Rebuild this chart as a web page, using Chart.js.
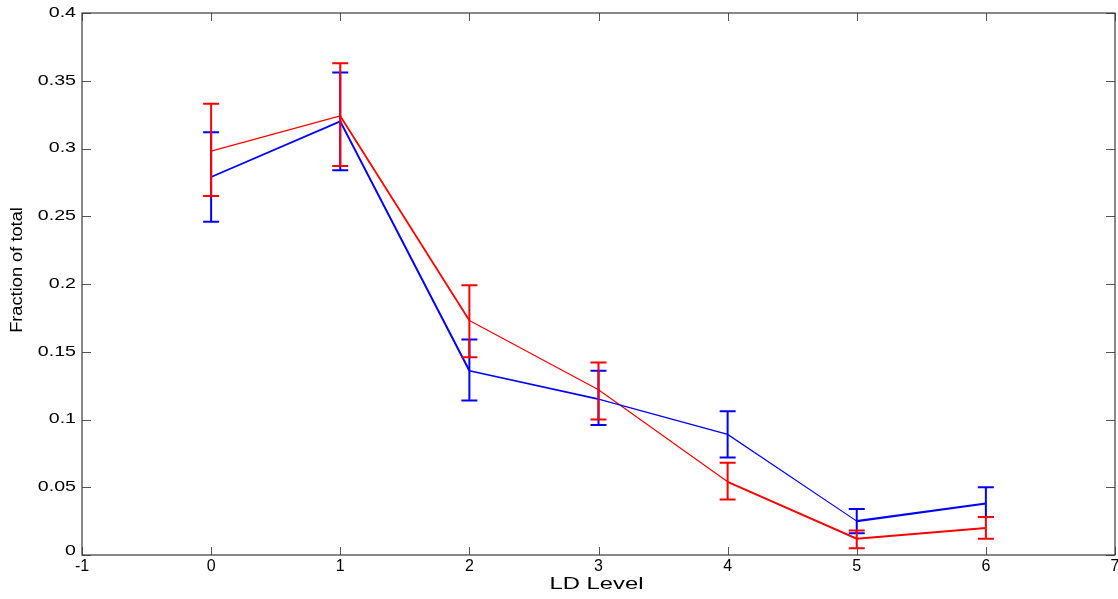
<!DOCTYPE html>
<html>
<head>
<meta charset="utf-8">
<script src="https://cdn.jsdelivr.net/npm/chart.js@4"></script>
<style>
  html, body { margin: 0; padding: 0; background: #fff; }
  #wrap { width: 1118px; height: 599px; }
</style>
</head>
<body>
<div id="wrap"><canvas id="ldChart" width="1118" height="599"></canvas></div>
<script>
// LD levels on the x axis
const levels = [0, 1, 2, 3, 4, 5, 6];

// red series: mean and error bar ends
const redMean = [0.298, 0.324, 0.173, 0.122, 0.054, 0.012, 0.020];
const redLow  = [0.265, 0.287, 0.146, 0.100, 0.041, 0.005, 0.012];
const redHigh = [0.333, 0.363, 0.199, 0.142, 0.068, 0.018, 0.028];

// blue series: mean and error bar ends
const blueMean = [0.279, 0.320, 0.136, 0.115, 0.089, 0.025, 0.038];
const blueLow  = [0.246, 0.284, 0.114, 0.096, 0.072, 0.016, 0.028];
const blueHigh = [0.312, 0.356, 0.159, 0.136, 0.106, 0.034, 0.050];

// tick labels
const xTicks = [-1, 0, 1, 2, 3, 4, 5, 6, 7];
const yTicks = ["0", "0.05", "0.1", "0.15", "0.2", "0.25", "0.3", "0.35", "0.4"];

// segment widths (the original has uneven line weights)
const redSegWidth = [1.3, 1.8, 1.2, 1.2, 2, 2];
const blueSegWidth = [1.7, 2, 1.7, 1.2, 1.2, 2.2];

function toPoints(values) {
    return levels.map((lv, i) => ({ x: lv, y: values[i] }));
}

// error bars drawn through the chart's own scales
const errorBars = {
    id: "errorBars",
    afterDatasetsDraw(chart) {
        const ctx = chart.ctx;
        const xs = chart.scales.x;
        const ys = chart.scales.y;
        const sets = [
            { color: "#0000ff", low: blueLow, high: blueHigh },
            { color: "#ff0000", low: redLow, high: redHigh }
        ];
        ctx.save();
        sets.forEach(s => {
            ctx.strokeStyle = s.color;
            ctx.lineWidth = 2;
            levels.forEach((lv, i) => {
                const px = xs.getPixelForValue(lv);
                const lo = ys.getPixelForValue(s.low[i]);
                const hi = ys.getPixelForValue(s.high[i]);
                ctx.beginPath();
                ctx.moveTo(px, lo);
                ctx.lineTo(px, hi);
                ctx.moveTo(px - 8, lo);
                ctx.lineTo(px + 8, lo);
                ctx.moveTo(px - 8, hi);
                ctx.lineTo(px + 8, hi);
                ctx.stroke();
            });
        });
        ctx.restore();
    }
};

// box, inward ticks and the (stretched) matlab-looking text
const axisBox = {
    id: "axisBox",
    afterDraw(chart) {
        const ctx = chart.ctx;
        const a = chart.chartArea;
        const xs = chart.scales.x;
        const ys = chart.scales.y;
        ctx.save();

        // ticks
        ctx.strokeStyle = "#555";
        ctx.lineWidth = 1;
        ctx.beginPath();
        xTicks.forEach(v => {
            const px = Math.round(xs.getPixelForValue(v)) + 0.5;
            ctx.moveTo(px, a.bottom); ctx.lineTo(px, a.bottom - 8);
            ctx.moveTo(px, a.top); ctx.lineTo(px, a.top + 8);
        });
        yTicks.forEach(t => {
            const py = Math.round(ys.getPixelForValue(parseFloat(t))) + 0.5;
            ctx.moveTo(a.left, py); ctx.lineTo(a.left + 9, py);
            ctx.moveTo(a.right, py); ctx.lineTo(a.right - 9, py);
        });
        ctx.stroke();

        // frame
        ctx.strokeStyle = "#3a3a3a";
        ctx.lineWidth = 1.2;
        ctx.strokeRect(a.left, a.top, a.right - a.left, a.bottom - a.top);

        ctx.fillStyle = "#000";

        // y tick labels
        ctx.font = "14px 'Liberation Sans', Arial, sans-serif";
        ctx.textAlign = "right";
        ctx.textBaseline = "middle";
        yTicks.forEach(t => {
            const py = ys.getPixelForValue(parseFloat(t));
            ctx.save();
            ctx.translate(a.left - 6, t === "0" ? py - 4 : py);
            ctx.scale(1.4, 1);
            ctx.fillText(t, 0, 0);
            ctx.restore();
        });

        // x tick labels
        ctx.font = "16px 'Liberation Sans', Arial, sans-serif";
        ctx.textAlign = "center";
        xTicks.forEach(v => {
            ctx.fillText(String(v), xs.getPixelForValue(v), a.bottom + 12);
        });

        // x title
        ctx.save();
        ctx.font = "17px 'Liberation Sans', Arial, sans-serif";
        ctx.translate((a.left + a.right) / 2 - 2, a.bottom + 29);
        ctx.scale(1.4, 1);
        ctx.fillText("LD Level", 0, 0);
        ctx.restore();

        // y title
        ctx.save();
        ctx.font = "16px 'Liberation Sans', Arial, sans-serif";
        ctx.translate(18, 270);
        ctx.rotate(-Math.PI / 2);
        ctx.scale(1.14, 1);
        ctx.fillText("Fraction of total", 0, 0);
        ctx.restore();

        ctx.restore();
    }
};

const ctx = document.getElementById("ldChart").getContext("2d");
new Chart(ctx, {
    type: "line",
    data: {
        datasets: [
            {
                label: "blue",
                data: toPoints(blueMean),
                borderColor: "#0000ff",
                backgroundColor: "#0000ff",
                pointRadius: 0,
                tension: 0,
                fill: false,
                segment: { borderWidth: c => blueSegWidth[c.p0DataIndex] }
            },
            {
                label: "red",
                data: toPoints(redMean),
                borderColor: "#ff0000",
                backgroundColor: "#ff0000",
                pointRadius: 0,
                tension: 0,
                fill: false,
                segment: { borderWidth: c => redSegWidth[c.p0DataIndex] }
            }
        ]
    },
    options: {
        responsive: false,
        animation: false,
        devicePixelRatio: 1,
        layout: { padding: { left: 82, top: 13, right: 3, bottom: 44 } },
        plugins: {
            legend: { display: false },
            tooltip: { enabled: false }
        },
        scales: {
            x: {
                type: "linear",
                min: -1,
                max: 7,
                grid: { display: false },
                border: { display: false },
                ticks: { display: false, stepSize: 1 },
                afterFit(scale) { scale.height = 0; }
            },
            y: {
                min: 0,
                max: 0.4,
                grid: { display: false },
                border: { display: false },
                ticks: { display: false, stepSize: 0.05 },
                afterFit(scale) { scale.width = 0; }
            }
        }
    },
    plugins: [errorBars, axisBox]
});
</script>
</body>
</html>
